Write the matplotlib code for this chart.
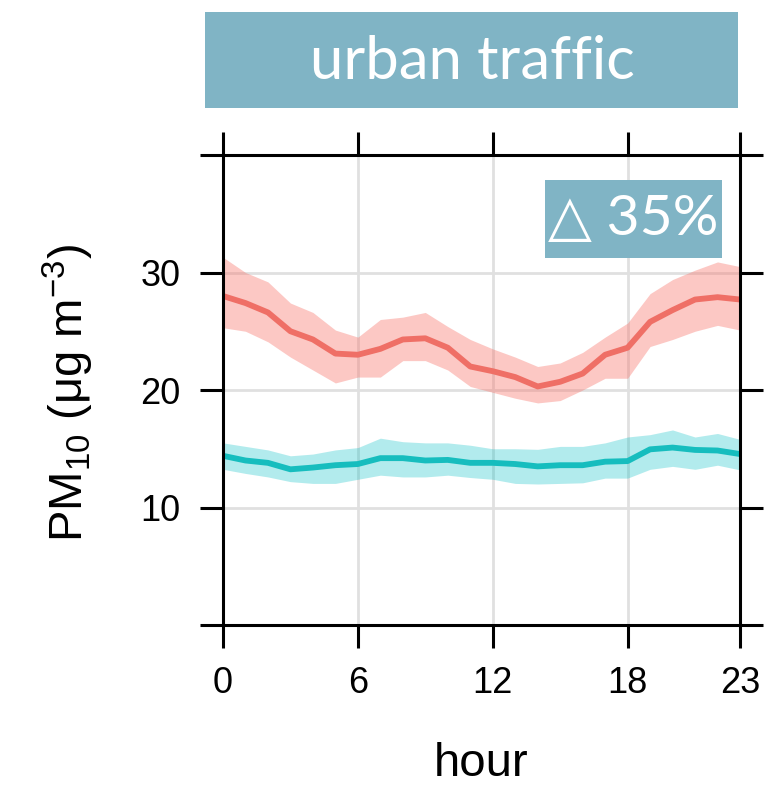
import matplotlib
matplotlib.use('Agg')
import matplotlib.pyplot as plt
from matplotlib.patches import Rectangle

plt.rcParams['font.family'] = ['Liberation Sans', 'DejaVu Sans']
plt.rcParams['mathtext.fontset'] = 'custom'
plt.rcParams['mathtext.rm'] = 'Liberation Sans'
plt.rcParams['mathtext.it'] = 'Liberation Sans:italic'

# hourly PM10 means with confidence band
hour = list(range(24))

red_mean = [28.0, 27.4, 26.6, 25.0, 24.3, 23.1, 23.0, 23.5, 24.3, 24.4, 23.6, 22.0,
            21.6, 21.1, 20.3, 20.7, 21.4, 23.0, 23.6, 25.8, 26.8, 27.7, 27.9, 27.7]
red_upper = [31.3, 30.0, 29.2, 27.4, 26.6, 25.1, 24.5, 26.0, 26.2, 26.6, 25.4, 24.3,
             23.5, 22.8, 22.0, 22.3, 23.2, 24.5, 25.7, 28.2, 29.4, 30.2, 30.9, 30.5]
red_lower = [25.3, 25.0, 24.1, 22.8, 21.7, 20.6, 21.1, 21.1, 22.5, 22.5, 21.7, 20.3,
             19.8, 19.3, 18.9, 19.1, 20.0, 21.0, 21.0, 23.7, 24.3, 25.0, 25.5, 25.1]

teal_mean = [14.4, 14.0, 13.8, 13.25, 13.4, 13.6, 13.7, 14.2, 14.2, 14.0, 14.05, 13.8,
             13.8, 13.7, 13.5, 13.6, 13.6, 13.9, 13.95, 14.95, 15.1, 14.9, 14.85, 14.55]
teal_upper = [15.5, 15.2, 14.9, 14.4, 14.55, 14.9, 15.1, 15.9, 15.6, 15.5, 15.5, 15.3,
              15.0, 15.0, 14.95, 15.2, 15.2, 15.5, 16.0, 16.2, 16.6, 16.0, 16.3, 15.8]
teal_lower = [13.25, 12.9, 12.6, 12.2, 12.05, 12.05, 12.4, 12.75, 12.6, 12.6, 12.75, 12.55,
              12.4, 12.05, 12.0, 12.05, 12.1, 12.5, 12.5, 13.25, 13.5, 13.25, 13.6, 13.2]

x_ticks = [0, 6, 12, 18, 23]
y_ticks = [0, 10, 20, 30, 40]
y_tick_labels = ['', '10', '20', '30', '']

title = 'urban traffic'
change_label = '\u25b3 35%'
box_color = '#80b4c5'

fig = plt.figure(figsize=(7.69, 7.85), dpi=100)
ax = fig.add_axes([223 / 769, 160 / 785, 517 / 769, 470 / 785])

ax.fill_between(hour, red_lower, red_upper, color='#f8766d', alpha=0.4, lw=0)
ax.plot(hour, red_mean, color='#ef6f66', lw=4.2)
ax.fill_between(hour, teal_lower, teal_upper, color='#00bfc4', alpha=0.3, lw=0)
ax.plot(hour, teal_mean, color='#16bdbe', lw=4.2)

ax.set_xlim(0, 23)
ax.set_ylim(0, 40)
ax.set_xticks(x_ticks)
ax.set_yticks(y_ticks)
ax.set_yticklabels(y_tick_labels)

for v in [6, 12, 18]:
    ax.axvline(v, color='#e0e0e0', lw=2.0, zorder=0)
for v in [10, 20, 30]:
    ax.axhline(v, color='#e0e0e0', lw=2.0, zorder=0)

for s in ax.spines.values():
    s.set_linewidth(2.2)
ax.tick_params(direction='out', length=16.5, width=2.2, labelsize=26,
               top=True, right=True, labeltop=False, labelright=False)
ax.tick_params(axis='x', pad=13)
ax.tick_params(axis='y', pad=14)

ax.set_xlabel('hour', fontsize=34)
ax.xaxis.set_label_coords(0.5, -0.248)
ax.set_ylabel(r'PM$_{10}$ ($\mathrm{\mu}$g m$^{-3}$)', fontsize=34)
ax.yaxis.set_label_coords(-0.245, 0.495)

# header box
fig.add_artist(Rectangle((205 / 769, 1 - 108 / 785), 533 / 769, 96 / 785,
                         transform=fig.transFigure, color=box_color, lw=0))
fig.text(472 / 769, 1 - 62 / 785, title, color='white', fontsize=43,
         family=['Lato', 'DejaVu Sans'], ha='center', va='center')

# relative change box
ax.add_patch(Rectangle((0.623, 0.781), 0.342, 0.166, transform=ax.transAxes,
                       color=box_color, lw=0, zorder=5))
ax.text(0.794, 0.862, change_label, transform=ax.transAxes, color='white',
        fontsize=41, family=['Lato', 'DejaVu Sans'], ha='center', va='center', zorder=6)

fig.savefig('out.png', dpi=100)
